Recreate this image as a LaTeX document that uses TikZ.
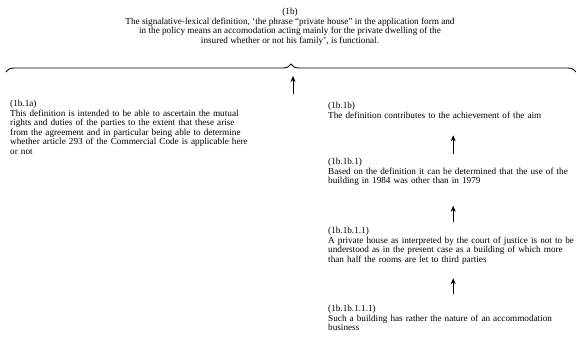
\documentclass[tikz,border=0pt]{standalone}
\usepackage{fontspec}
\setmainfont{Liberation Serif}
\usetikzlibrary{arrows.meta, positioning, calc, decorations.pathreplacing}

\begin{document}
\begin{tikzpicture}[
    x=1pt, y=-1pt,
    every node/.style={font=\fontsize{9.2}{9.5}\selectfont, inner sep=0pt},
    argbox/.style={anchor=north west, align=left, text width=250pt},
    arrow/.style={-{Stealth[length=6pt, width=5pt]}, line width=0.6pt},
    bracket/.style={decorate, decoration={brace, amplitude=8pt}, line width=0.9pt}
]
\useasboundingbox (0,0) rectangle (576,341);

% === MAIN STANDPOINT ===
\node [anchor=north, align=center] (claim) at (290,8) {(1b)\\
The signalative-lexical definition, `the phrase ``private house'' in the application form and\\
in the policy means an accomodation acting mainly for the private dwelling of the\\
insured whether or not his family', is functional.};

% === BRACE AND SUPPORT ===
\coordinate (braceL) at (6,72);
\coordinate (braceR) at (576,72);
\draw[bracket] (braceL) -- (braceR);
\coordinate (supfoot) at (293,94);
\coordinate (suphead) at (293,76);
\draw[arrow] (supfoot) -- (suphead);

% === ARGUMENTS ===
\node [argbox] (arg1a) at (10,100) {(1b.1a)\\
This definition is intended to be able to ascertain the mutual\\
rights and duties of the parties to the extent that these arise\\
from the agreement and in particular being able to determine\\
whether article 293 of the Commercial Code is applicable here\\
or not};

\node [argbox] (arg1b) at (328,102) {(1b.1b)\\
The definition contributes to the achievement of the aim};

\node [argbox] (arg1b1) at (328,158) {(1b.1b.1)\\
Based on the definition it can be determined that the use of the\\
building in 1984 was other than in 1979};

\node [argbox] (arg1b11) at (328,227) {(1b.1b.1.1)\\
A private house as interpreted by the court of justice is not to be\\
understood as in the present case as a building of which more\\
than half the rooms are let to third parties};

\node [argbox] (arg1b111) at (328,305) {(1b.1b.1.1.1)\\
Such a building has rather the nature of an accommodation\\
business};

% === SUPPORT ARROWS ===
\draw[arrow, shorten <=4pt, shorten >=17pt] (arg1b1.north) -- (arg1b.south);
\draw[arrow, shorten <=5pt, shorten >=20pt] (arg1b11.north) -- (arg1b1.south);
\draw[arrow, shorten <=11pt, shorten >=14pt] (arg1b111.north) -- (arg1b11.south);

\end{tikzpicture}
\end{document}
